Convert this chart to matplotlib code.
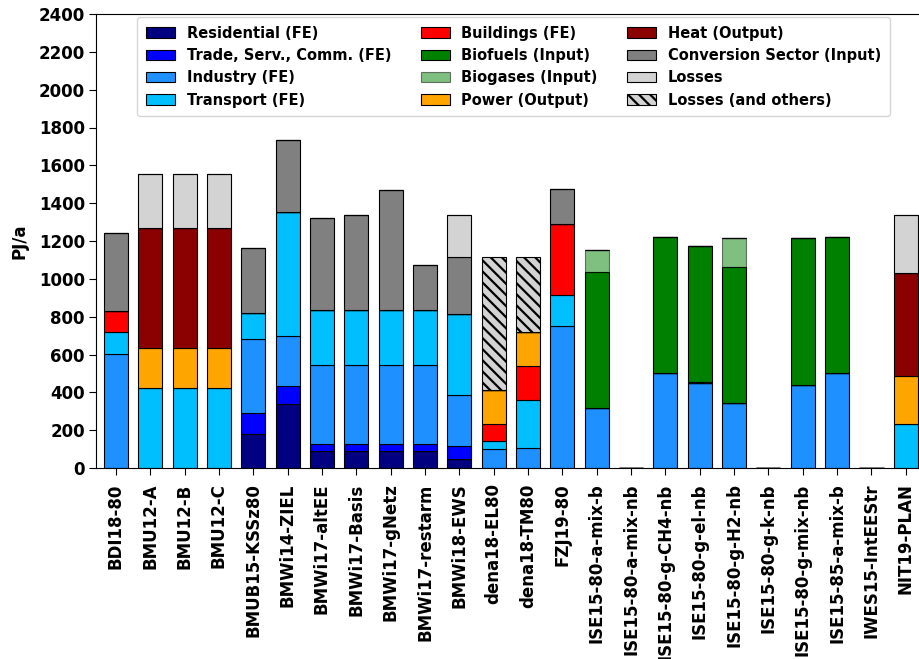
import numpy as np
import matplotlib
matplotlib.use('Agg')
import matplotlib.pyplot as plt

studies = ['BDI18-80', 'BMU12-A', 'BMU12-B', 'BMU12-C', 'BMUB15-KSSz80', 'BMWi14-ZIEL',
           'BMWi17-altEE', 'BMWi17-Basis', 'BMWi17-gNetz', 'BMWi17-restarm', 'BMWi18-EWS',
           'dena18-EL80', 'dena18-TM80', 'FZJ19-80', 'ISE15-80-a-mix-b', 'ISE15-80-a-mix-nb',
           'ISE15-80-g-CH4-nb', 'ISE15-80-g-el-nb', 'ISE15-80-g-H2-nb', 'ISE15-80-g-k-nb',
           'ISE15-80-g-mix-nb', 'ISE15-85-a-mix-b', 'IWES15-IntEEStr', 'NIT19-PLAN']

# PJ/a per study
residential  = [0, 0, 0, 0, 178, 339, 92, 92, 92, 92, 46, 0, 0, 0, 0, 0, 0, 0, 0, 0, 0, 0, 0, 0]
trade        = [0, 0, 0, 0, 115, 92, 34, 34, 34, 34, 72, 0, 0, 0, 0, 0, 0, 0, 0, 0, 0, 0, 0, 0]
industry     = [604, 0, 0, 0, 389, 268, 421, 421, 421, 421, 269, 99, 104, 749, 319, 0, 500, 449, 343, 0, 438, 500, 0, 0]
transport    = [113, 424, 424, 424, 138, 656, 286, 286, 286, 286, 427, 44, 256, 166, 0, 0, 0, 0, 0, 0, 0, 0, 0, 235]
buildings    = [111, 0, 0, 0, 0, 0, 0, 0, 0, 0, 0, 92, 180, 376, 0, 0, 0, 0, 0, 0, 0, 0, 0, 0]
power        = [0, 213, 213, 213, 0, 0, 0, 0, 0, 0, 0, 177, 179, 0, 0, 0, 0, 0, 0, 0, 0, 0, 0, 249]
heat         = [0, 633, 633, 633, 0, 0, 0, 0, 0, 0, 0, 0, 0, 0, 0, 0, 0, 8, 0, 0, 0, 0, 0, 549]
biofuels     = [0, 0, 0, 0, 0, 0, 0, 0, 0, 0, 0, 0, 0, 0, 718, 0, 719, 719, 718, 0, 779, 719, 0, 0]
biogases     = [0, 0, 0, 0, 0, 0, 0, 0, 0, 0, 0, 0, 0, 0, 114, 0, 0, 0, 154, 0, 0, 0, 0, 0]
conversion   = [412, 0, 0, 0, 342, 379, 488, 504, 636, 242, 304, 0, 0, 182, 0, 0, 0, 0, 0, 0, 0, 4, 0, 0]
losses       = [0, 282, 282, 282, 0, 0, 0, 0, 0, 0, 222, 0, 0, 0, 0, 0, 0, 0, 0, 0, 0, 0, 0, 304]
losses_other = [0, 0, 0, 0, 0, 0, 0, 0, 0, 0, 0, 704, 397, 0, 0, 0, 0, 0, 0, 0, 0, 0, 0, 0]

# (label, values, style) in stacking order
series = [
    ('Residential (FE)', residential, dict(color='navy')),
    ('Trade, Serv., Comm. (FE)', trade, dict(color='blue')),
    ('Industry (FE)', industry, dict(color='dodgerblue')),
    ('Transport (FE)', transport, dict(color='deepskyblue')),
    ('Buildings (FE)', buildings, dict(color='red')),
    ('Power (Output)', power, dict(color='orange')),
    ('Heat (Output)', heat, dict(color='darkred')),
    ('Biofuels (Input)', biofuels, dict(color='green')),
    ('Biogases (Input)', biogases, dict(color='green', alpha=0.5)),
    ('Conversion Sector (Input)', conversion, dict(color='grey')),
    ('Losses', losses, dict(color='lightgrey')),
    ('Losses (and others)', losses_other, dict(color='lightgrey', hatch='\\\\\\')),
]
legend_order = ['Residential (FE)', 'Trade, Serv., Comm. (FE)', 'Industry (FE)', 'Transport (FE)',
                'Buildings (FE)', 'Biofuels (Input)', 'Biogases (Input)', 'Power (Output)',
                'Heat (Output)', 'Conversion Sector (Input)', 'Losses', 'Losses (and others)']

plt.rcParams['font.weight'] = 'bold'
plt.rcParams['font.size'] = 12
plt.rcParams['hatch.linewidth'] = 1.6

fig = plt.figure(figsize=(9.2, 6.59), dpi=100)
ax = fig.add_axes([96 / 920, 1 - 468 / 659, 827 / 920, 454 / 659])

x = np.arange(len(studies))
bottom = np.zeros(len(studies))
handles = {}
for label, vals, style in series:
    vals = np.array(vals, dtype=float)
    bars = ax.bar(x, vals, 0.7, bottom=bottom, edgecolor='black', linewidth=0.8,
                  label=label, **style)
    handles[label] = bars
    bottom += vals

ax.set_xticks(x)
ax.set_xticklabels(studies, rotation=90, fontweight='bold')
ax.set_xlim(-0.58, 23.5)
ax.set_ylim(0, 2400)
ax.set_yticks(np.arange(0, 2401, 200))
ax.tick_params(axis='x', length=5, pad=6)
ax.tick_params(axis='y', length=5, pad=3)
ax.set_ylabel('PJ/a', fontweight='bold', labelpad=7)

ax.legend([handles[k] for k in legend_order], legend_order, ncol=3, loc='upper center',
          bbox_to_anchor=(0.505, 1.0), borderaxespad=0.2, borderpad=0.6,
          prop={'weight': 'bold', 'size': 10.5})

fig.savefig('out.png', dpi=100)
